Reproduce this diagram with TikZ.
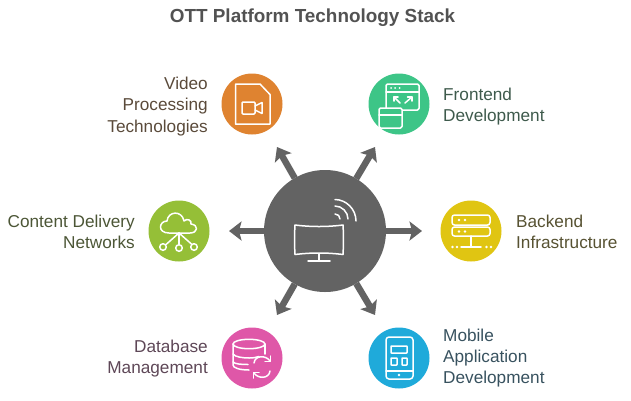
\documentclass[tikz,border=0pt]{standalone}
\usepackage{fontspec}
\setmainfont{Liberation Sans}
\usetikzlibrary{arrows.meta}
\definecolor{cOrange}{HTML}{DF8330}
\definecolor{cGreen}{HTML}{3DC587}
\definecolor{cLime}{HTML}{95BF37}
\definecolor{cYellow}{HTML}{E0C512}
\definecolor{cPink}{HTML}{DF57A8}
\definecolor{cBlue}{HTML}{1FAADA}
\definecolor{cHub}{HTML}{636363}
\definecolor{tOrange}{HTML}{5A4A3A}
\definecolor{tGreen}{HTML}{3E5A4C}
\definecolor{tLime}{HTML}{4C5636}
\definecolor{tYellow}{HTML}{575232}
\definecolor{tPink}{HTML}{5E4757}
\definecolor{tBlue}{HTML}{38525F}
\tikzset{
  x=1pt,y=-1pt,
  badge/.style={circle,minimum size=61pt,inner sep=0pt,outer sep=0pt,fill=#1},
  hubnode/.style={circle,minimum size=122pt,inner sep=0pt,outer sep=0pt,fill=cHub},
  spoke/.style={draw=cHub,line width=6.5pt,-{Stealth[length=12.5pt,width=19pt,inset=2.5pt]}},
  icon/.style={draw=white,line width=1.5pt,line cap=round,line join=round},
  label/.style={font=\fontsize{17.2}{21.4}\selectfont,text=#1,inner sep=0pt},
  rlabel/.style={label=#1,anchor=east,align=right},
  llabel/.style={label=#1,anchor=west,align=left},
  headline/.style={font=\fontsize{18.9}{24}\selectfont\bfseries,text=black!68,inner sep=0pt}
}
\begin{document}
\begin{tikzpicture}
\useasboundingbox (0,0) rectangle (631,400);
\node[headline] (title) at (312.5,17.5) {OTT Platform Technology Stack};

\node[hubnode] (hub) at (325,231) {};
\coordinate (tipNW) at (277,147);
\coordinate (tipNE) at (375,147);
\coordinate (tipW) at (229,231);
\coordinate (tipE) at (422,231);
\coordinate (tipSW) at (277,315);
\coordinate (tipSE) at (375,315);
\foreach \t in {tipNW,tipNE,tipW,tipE,tipSW,tipSE}
  \draw[spoke] (hub) -- (\t);

\node[badge=cOrange] (video) at (252,104) {};
\node[badge=cGreen] (front) at (399,104) {};
\node[badge=cLime] (cdn) at (179,231) {};
\node[badge=cYellow] (back) at (471,231) {};
\node[badge=cPink] (db) at (252,358) {};
\node[badge=cBlue] (mobile) at (399,358) {};

\node[rlabel=tOrange] (tvideo) at (208,106.5) {Video\\Processing\\Technologies};
\node[llabel=tGreen] (tfront) at (443,106.5) {Frontend\\Development};
\node[rlabel=tLime] (tcdn) at (135,232) {Content Delivery\\Networks};
\node[llabel=tYellow] (tback) at (516,232) {Backend\\Infrastructure};
\node[rlabel=tPink] (tdb) at (208,358.5) {Database\\Management};
\node[llabel=tBlue] (tmobile) at (443,358) {Mobile\\Application\\Development};

% hub icon: curved screen with signal
\begin{scope}[shift={(325,231)},icon]
  \draw (-30,-6) .. controls (-14,-4) and (2,-4) .. (18,-6) .. controls (18.6,3) and (18.6,14) .. (18,23.5) .. controls (2,21.5) and (-14,21.5) .. (-30,23.5) .. controls (-30.6,14) and (-30.6,3) .. (-30,-6) -- cycle;
  \draw (-6,23) -- (-6,30);
  \draw (-17,30) -- (5,30);
  \draw (10,-17) .. controls (13,-17) and (15,-15) .. (15,-12);
  \draw (10,-25) .. controls (17,-25) and (23,-19) .. (23,-12);
  \draw (10,-31.5) .. controls (21,-31.5) and (31,-22) .. (31,-10);
\end{scope}

% video file icon
\begin{scope}[shift={(252,104)},icon]
  \draw (-16.5,-20) -- (8,-20) -- (18,-9.5) -- (18,20) -- (-16.5,20) -- cycle;
  \draw[rounded corners=1pt] (-10,-2) rectangle (3,10);
  \draw (3,2) -- (10,-1.5) -- (10,9.5) -- (3,6);
\end{scope}

% frontend window icon
\begin{scope}[shift={(399,104)},icon]
  \draw[rounded corners=1.5pt] (-13,-20) rectangle (20,6);
  \draw (-13,-12) -- (20,-12);
  \foreach \d in {-8,-4,0.5} \fill[white,draw=none] (\d,-16) circle[radius=1];
  \draw (1,-1) -- (-5,-7); \draw (-5,-3) -- (-5,-7) -- (-1,-7);
  \draw (6,-1) -- (13,-7); \draw (8.5,-7) -- (13,-7) -- (13,-3);
  \draw[fill=cGreen,rounded corners=1.5pt] (-20,4) rectangle (3,24);
  \draw (-20,11) -- (3,11);
\end{scope}

% cloud network icon
\begin{scope}[shift={(179,231)},icon]
  \draw (-10,2) .. controls (-22,2) and (-20,-10) .. (-12,-10) .. controls (-11,-20) and (3,-21) .. (5,-10) .. controls (8,-13) and (13,-11) .. (12,-7) .. controls (20,-6) and (19,2) .. (11,2) -- cycle;
  \draw (0,2) -- (0,13.5);
  \draw (0,2) -- (-13,13.5);
  \draw (0,2) -- (13,13.5);
  \draw (-16,16) circle[radius=3.3];
  \draw (0,17) circle[radius=3.3];
  \draw (15,16) circle[radius=3.3];
\end{scope}

% server icon
\begin{scope}[shift={(471,231)},icon]
  \draw[rounded corners=2.5pt] (-19,-16) rectangle (19,-6);
  \draw[rounded corners=2.5pt] (-19,-4) rectangle (19,5);
  \foreach \d in {-12,-6} {
    \fill[white,draw=none] (\d,-11) circle[radius=1.3];
    \fill[white,draw=none] (\d,0.5) circle[radius=1.3];
  }
  \draw (0,5) -- (0,16);
  \draw (-10,16) -- (10,16);
  \foreach \d in {-18.5,-14,15.5,20} \fill[white,draw=none] (\d,16) circle[radius=1.3];
\end{scope}

% database sync icon
\begin{scope}[shift={(252,358)},icon]
  \draw (-3,-14) ellipse[x radius=16,y radius=4.7];
  \draw (-19,-14) -- (-19,7) .. controls (-19,10) and (-12,12) .. (-3,12);
  \draw (13,-14) -- (13,-4);
  \draw (-19,-4) .. controls (-17,-1) and (-9,0) .. (-3,0) .. controls (1,0) and (4,-0.5) .. (7,-1.5);
  \draw (-19,4) .. controls (-17,6) and (-11,6.5) .. (-4,6.5);
  \draw (2,5) .. controls (3,-3) and (14,-3) .. (18,3);
  \draw (18.5,-2) -- (18.5,3.5) -- (13,3.5);
  \draw (18,13) .. controls (17,21) and (6,21) .. (2,15);
  \draw (1.5,20) -- (1.5,14.5) -- (7,14.5);
\end{scope}

% mobile icon
\begin{scope}[shift={(399,358)},icon]
  \draw[rounded corners=3pt] (-13,-21) rectangle (14,21);
  \draw (-13,13) -- (14,13);
  \fill[white,draw=none] (0,17) circle[radius=1.3];
  \draw[rounded corners=0.5pt] (-8,-12) rectangle (8,-5);
  \draw[rounded corners=0.5pt] (-8,0) rectangle (-2,7);
  \draw[rounded corners=0.5pt] (3,0) rectangle (8,7);
\end{scope}
\end{tikzpicture}
\end{document}
